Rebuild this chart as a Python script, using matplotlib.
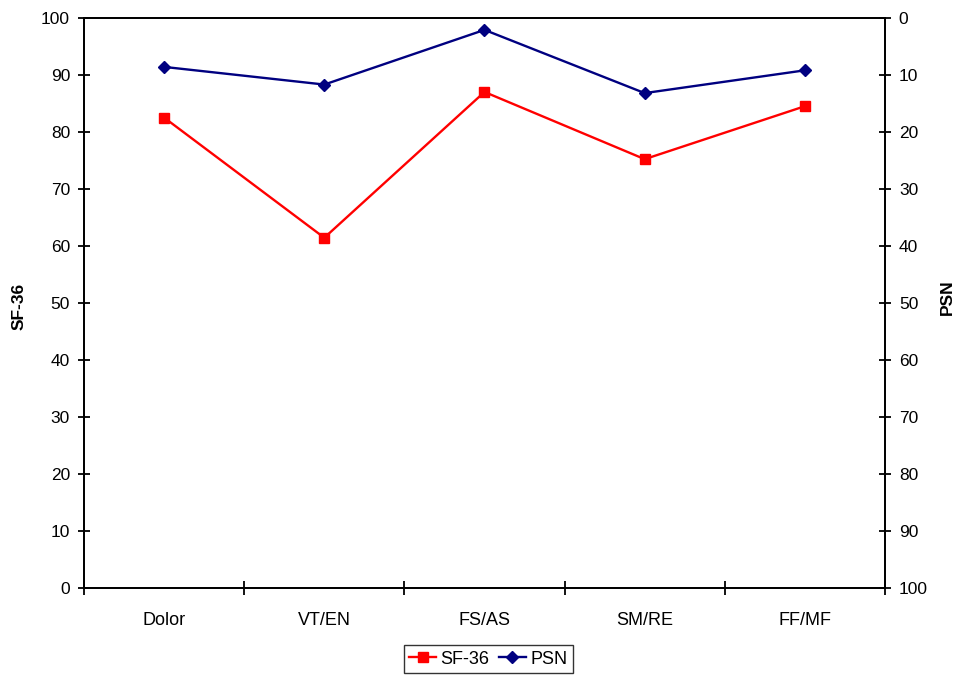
import numpy as np
import matplotlib
matplotlib.use('Agg')
from matplotlib import pyplot as plt

categories = ['Dolor', 'VT/EN', 'FS/AS', 'SM/RE', 'FF/MF']
sf36 = [82.6, 61.5, 87.1, 75.3, 84.6]
psn = [8.5, 11.6, 2.0, 13.1, 9.1]

plt.rcParams['font.family'] = ['Liberation Sans', 'DejaVu Sans']

fig = plt.figure(figsize=(9.61, 6.75), dpi=100)
ax = fig.add_axes([0.0874, 0.1289, 0.8335, 0.8437])
x = np.arange(len(categories))

l1 = ax.plot(x, sf36, color='#ff0000', linewidth=1.7, marker='s', markersize=7.5,
			 label='SF-36')
ax.set_xlim(-0.5, len(categories) - 0.5)
ax.set_ylim(0, 100)
ax.set_yticks(np.arange(0, 101, 10))
ax.set_xticks(np.arange(-0.5, len(categories), 1.0))
ax.set_xticklabels([])
ax.set_xticks(x, minor=True)
ax.set_xticklabels(categories, minor=True)
ax.tick_params(axis='x', which='minor', length=0, pad=17, labelsize=13)
ax.tick_params(axis='x', which='major', direction='inout', length=10, width=1.3)
ax.tick_params(axis='y', direction='inout', length=9, width=1.3, labelsize=12.5, pad=5.5)
for s in ax.spines.values():
	s.set_linewidth(1.3)

ax2 = ax.twinx()
l2 = ax2.plot(x, psn, color='#000080', linewidth=1.7, marker='D', markersize=6.5,
			  label='PSN')
ax2.set_ylim(100, 0)
ax2.set_yticks(np.arange(0, 101, 10))
ax2.tick_params(axis='y', direction='inout', length=9, width=1.3, labelsize=12.5, pad=5.5)
for s in ax2.spines.values():
	s.set_linewidth(1.3)

# axis titles sit right at the figure edges
fig.text(19.5 / 961, 1 - 306 / 675, 'SF-36', rotation=90, ha='center', va='center',
		 fontsize=12.5, fontweight='bold')
fig.text(947 / 961, 1 - 297 / 675, 'PSN', rotation=90, ha='center', va='center',
		 fontsize=12.5, fontweight='bold')

lines = l1 + l2
leg = fig.legend(lines, [l.get_label() for l in lines], loc='lower center',
				 bbox_to_anchor=(0.508, 0.003), ncol=2, fontsize=13, frameon=True,
				 fancybox=False, handlelength=1.5, handletextpad=0.25, columnspacing=0.5,
				 borderpad=0.3, borderaxespad=0.0)
leg.get_frame().set_edgecolor('black')
leg.get_frame().set_linewidth(1.0)

plt.savefig('out.png', dpi=100)
